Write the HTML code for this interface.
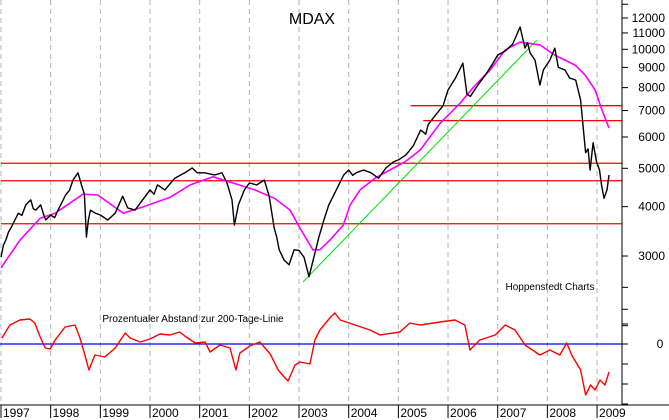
<!DOCTYPE html>
<html><head><meta charset="utf-8"><style>
html,body{margin:0;padding:0;background:#fff;}
svg{display:block;font-family:"Liberation Sans",sans-serif;}
</style></head><body>
<svg id="c" width="669" height="420" viewBox="0 0 669 420">
<rect width="669" height="420" fill="#fff"/>
<text x="312" y="24" text-anchor="middle" font-size="16" fill="#000">MDAX</text>
<text x="550" y="290" text-anchor="middle" font-size="10" fill="#000">Hoppenstedt Charts</text>
<text x="193" y="322" text-anchor="middle" font-size="10" fill="#000">Prozentualer Abstand zur 200-Tage-Linie</text>
</svg>
<script>
const years=[1997,1998,1999,2000,2001,2002,2003,2004,2005,2006,2007,2008,2009];
const yTickValues=[12000,11000,10000,9000,8000,7000,6000,5000,4000,3000];
const yMinorTicks=[13000,2500,2200,2000];
const hLineValues=[7200,6600,5150,4650,3620];
const hLineStarts=[2005.25,2005.5,1997,1997,1997];
const trendStart=[2003.08,2580];
const trendEnd=[2007.79,10560];
const priceDates=[1997.00,1997.05,1997.10,1997.15,1997.20,1997.28,1997.35,1997.42,1997.50,1997.60,1997.65,1997.70,1997.80,1997.85,1997.90,1998.00,1998.08,1998.15,1998.30,1998.38,1998.45,1998.55,1998.62,1998.68,1998.72,1998.76,1998.80,1998.90,1999.00,1999.15,1999.30,1999.45,1999.55,1999.70,1999.85,2000.00,2000.08,2000.15,2000.30,2000.50,2000.70,2000.85,2000.95,2001.10,2001.30,2001.45,2001.55,2001.65,2001.70,2001.78,2001.90,2002.00,2002.15,2002.30,2002.40,2002.50,2002.55,2002.60,2002.70,2002.80,2002.90,2003.00,2003.10,2003.20,2003.30,2003.40,2003.50,2003.60,2003.75,2003.90,2004.00,2004.08,2004.15,2004.30,2004.45,2004.60,2004.75,2004.90,2005.00,2005.15,2005.30,2005.45,2005.55,2005.60,2005.75,2005.90,2006.00,2006.15,2006.30,2006.38,2006.45,2006.60,2006.75,2006.90,2007.00,2007.15,2007.30,2007.45,2007.55,2007.60,2007.65,2007.75,2007.85,2007.92,2008.05,2008.15,2008.22,2008.35,2008.45,2008.57,2008.67,2008.77,2008.82,2008.86,2008.92,2008.99,2009.05,2009.09,2009.14,2009.20,2009.24];
const priceValues=[2980,3200,3300,3450,3530,3700,3850,3800,4040,4160,3950,3920,4040,3850,3700,3810,3750,3920,4280,4400,4670,4870,4540,4300,3350,3700,3920,3850,3810,3700,3850,4250,3970,3920,4160,4410,4300,4540,4410,4720,4870,5010,4870,4870,4810,4870,4590,4160,3590,4040,4410,4590,4540,4670,4250,3530,3350,3110,2930,2850,3110,3100,2980,2660,2980,3350,3700,4040,4410,4810,4950,4800,4870,4950,4870,4720,5010,5190,5250,5400,5700,6250,6100,6450,6820,7200,7890,8460,9230,7700,7600,8120,8600,9200,9670,9900,10300,11390,10070,10400,9800,9390,8120,8870,9390,10070,9000,8870,8460,8360,7440,5480,5600,4950,5800,5200,4950,4540,4200,4410,4810];
const maDates=[1997.00,1997.38,1997.79,1998.09,1998.65,1998.95,1999.46,1999.80,2000.40,2000.81,2001.27,2001.67,2002.11,2002.52,2002.82,2003.02,2003.28,2003.42,2003.62,2003.89,2004.03,2004.23,2004.53,2004.83,2005.13,2005.44,2005.84,2006.24,2006.54,2006.85,2007.15,2007.45,2007.85,2008.15,2008.56,2008.76,2008.96,2009.10,2009.24];
const maValues=[2800,3290,3740,3850,4300,4280,3850,3970,4220,4540,4760,4590,4410,4190,3920,3530,3110,3110,3290,3590,4040,4410,4720,4950,5190,5560,6500,7300,8100,8870,9960,10430,10260,9670,9120,8610,7890,7020,6320];
const pctDates=[1997.02,1997.18,1997.38,1997.58,1997.68,1997.79,1997.89,1997.99,1998.09,1998.29,1998.49,1998.59,1998.69,1998.77,1998.89,1999.09,1999.30,1999.50,1999.60,1999.80,2000.00,2000.20,2000.40,2000.60,2000.70,2000.91,2001.11,2001.21,2001.41,2001.61,2001.73,2001.81,2002.01,2002.21,2002.42,2002.58,2002.72,2002.78,2002.92,2003.02,2003.22,2003.32,2003.42,2003.62,2003.72,2003.83,2004.13,2004.43,2004.63,2005.03,2005.23,2005.44,2005.84,2006.14,2006.34,2006.44,2006.64,2006.95,2007.15,2007.35,2007.55,2007.85,2008.05,2008.25,2008.39,2008.49,2008.67,2008.77,2008.87,2008.96,2009.06,2009.16,2009.24];
const pctValues=[6,19,24,25,21,7,-4,-5,4,17,19,6,-11,-26,-11,-13,-4,11,6,2,5,10,9,12,8,1,2,-8,-1,-4,-26,-9,-2,2,-10,-26,-34,-37,-21,-18,-20,4,14,26,31,24,19,14,9,12,21,19,22,24,19,-6,4,9,19,14,-1,-11,-6,-11,1,-11,-26,-51,-41,-46,-36,-41,-28];
const pctTicks=[20,0,-20,-40,-60];

const svg=document.getElementById('c');
const NS='http://www.w3.org/2000/svg';
const AX=622, XB=405;
function xs(t){return 1+(t-1997)*49.67;}
function ys(v){return 18+171.7*Math.log(12000/v);}
function yp(p){return 344-p;}
function mk(tag,attrs){const e=document.createElementNS(NS,tag);for(const k in attrs)e.setAttribute(k,attrs[k]);svg.appendChild(e);return e;}

years.forEach(y=>{
  const x=xs(y);
  const g=mk('line',{x1:x,y1:0,x2:x,y2:XB,stroke:'#b4b4b4','stroke-dasharray':'5,4','stroke-width':1});
  
  
  const tk=mk('line',{x1:x,y1:XB,x2:x,y2:418,stroke:'#000'});
  
  
  const t=mk('text',{x:x+2,y:417,'font-size':12,fill:'#000'});
  t.textContent=String(y);
  
  
});

hLineValues.forEach((v,i)=>{
  const l=mk('line',{x1:xs(hLineStarts[i]),x2:AX,y1:ys(v),y2:ys(v),stroke:'#ff0000','stroke-width':1.3});
  
  
});
const zl=mk('line',{x1:0,x2:AX,y1:yp(0),y2:yp(0),stroke:'#0000ff','stroke-width':1.2});



const tr=mk('line',{x1:xs(trendStart[0]),y1:ys(trendStart[1]),x2:xs(trendEnd[0]),y2:ys(trendEnd[1]),stroke:'#00dd00','stroke-width':1});



function poly(d,v,f,color,w){
  const pts=d.map((t,i)=>xs(t).toFixed(1)+','+f(v[i]).toFixed(1)).join(' ');
  return mk('polyline',{points:pts,fill:'none',stroke:color,'stroke-width':w,'stroke-linejoin':'round'});
}
const ma=poly(maDates,maValues,ys,'#ff00ff',1.6);


const pr=poly(priceDates,priceValues,ys,'#000',1.4);


const pc=poly(pctDates,pctValues,yp,'#ff0000',1.4);



const ax=mk('line',{x1:AX,y1:0,x2:AX,y2:XB,stroke:'#000'});


const xa=mk('line',{x1:0,y1:XB,x2:669,y2:XB,stroke:'#000'});



yTickValues.concat(yMinorTicks).forEach(v=>{
  const y=ys(v);
  const t=mk('line',{x1:AX,x2:AX+6,y1:y,y2:y,stroke:'#000'});
  
  
});
yTickValues.forEach(v=>{
  const t=mk('text',{x:665,y:ys(v)+4,'text-anchor':'end','font-size':12,fill:'#000'});
  t.textContent=String(v);
  
  
});
pctTicks.forEach(p=>{
  const y=yp(p);
  const t=mk('line',{x1:AX,x2:AX+6,y1:y,y2:y,stroke:'#000'});
  
  
});
const z=mk('text',{x:660,y:yp(0)+4,'text-anchor':'middle','font-size':12,fill:'#000'});
z.textContent='0';


</script>
</body></html>
